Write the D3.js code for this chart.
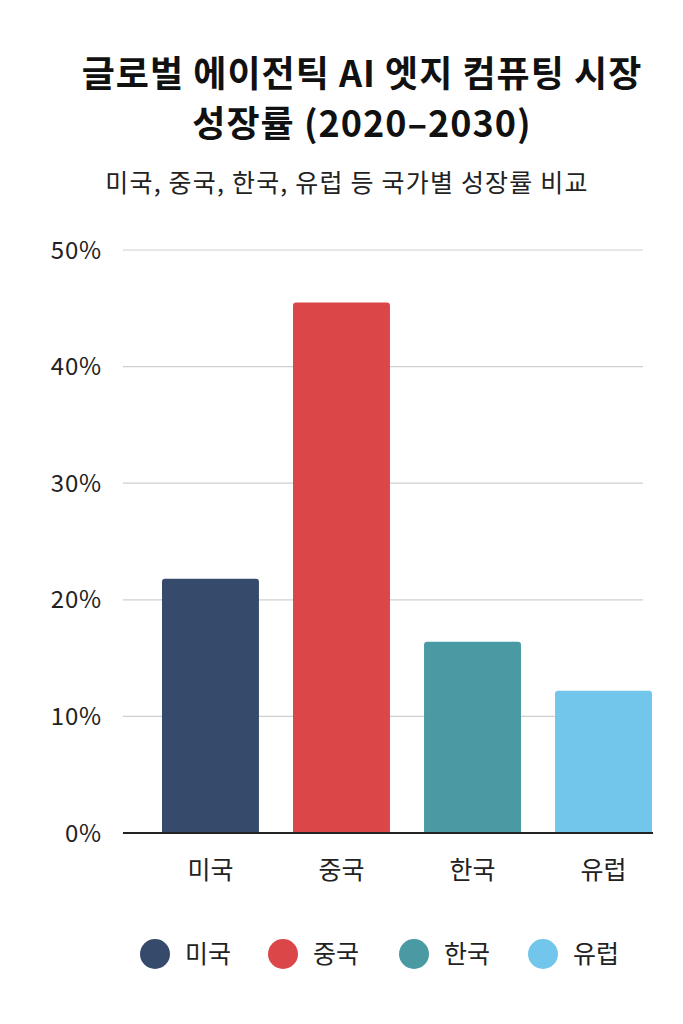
<!DOCTYPE html>
<html>
<head>
<meta charset="utf-8">
<script src="https://cdn.jsdelivr.net/npm/d3@7"></script>
<style>
  body { margin: 0; background: #fff; }
  svg { display: block; font-family: "Noto Sans CJK KR", "Noto Sans", sans-serif; }
</style>
</head>
<body>
<svg></svg>
<script>
const WIDTH  = 683;
const HEIGHT = 1024;

const titleLines = ['글로벌 에이전틱 AI 엣지 컴퓨팅 시장', '성장률 (2020–2030)'];
const subtitle   = '미국, 중국, 한국, 유럽 등 국가별 성장률 비교';

const countries = ['미국', '중국', '한국', '유럽'];
const growth    = [21.8, 45.5, 16.4, 12.2];
const colors    = ['#364a6b', '#db4649', '#4a9aa4', '#72c6ec'];
const yTicks    = [0, 10, 20, 30, 40, 50];

const svg = d3.select('svg')
  .attr('width', WIDTH)
  .attr('height', HEIGHT);

// titles
svg.append('g')
  .selectAll('text')
  .data(titleLines)
  .join('text')
  .attr('x', 362)
  .attr('y', (d, i) => 87 + i * 50)
  .attr('text-anchor', 'middle')
  .attr('font-size', 36)
  .attr('font-weight', 700)
  .attr('letter-spacing', 1)
  .attr('fill', '#111')
  .text(d => d);

svg.append('text')
  .attr('x', 347)
  .attr('y', 192)
  .attr('text-anchor', 'middle')
  .attr('font-size', 25)
  .attr('letter-spacing', 1.2)
  .attr('fill', '#222')
  .text(subtitle);

//-------------------------------------------------

const x = d3.scaleBand()
  .domain(countries)
  .range([162, 652])
  .paddingInner(0.26)
  .paddingOuter(0);

const y = d3.scaleLinear()
  .domain([0, 50])
  .range([833, 250]);

const data = countries.map((c, i) => ({ country: c, value: growth[i], color: colors[i] }));

// grid
svg.append('g')
  .selectAll('line')
  .data(yTicks.filter(t => t > 0))
  .join('line')
  .attr('x1', 123)
  .attr('x2', 643)
  .attr('y1', d => y(d))
  .attr('y2', d => y(d))
  .attr('stroke', '#cfcfcf')
  .attr('stroke-width', 1.2);

// y labels
svg.append('g')
  .selectAll('text')
  .data(yTicks)
  .join('text')
  .attr('x', 102)
  .attr('y', d => y(d))
  .attr('dy', '0.36em')
  .attr('text-anchor', 'end')
  .attr('font-size', 24)
  .attr('letter-spacing', 0.8)
  .attr('fill', '#222')
  .text(d => `${d}%`);

// bars
svg.append('g')
  .selectAll('path')
  .data(data)
  .join('path')
  .attr('fill', d => d.color)
  .attr('d', d => {
    const x0 = x(d.country), w = x.bandwidth(), y0 = y(d.value), y1 = y(0), r = 3;
    return `M${x0},${y1}V${y0 + r}Q${x0},${y0} ${x0 + r},${y0}H${x0 + w - r}Q${x0 + w},${y0} ${x0 + w},${y0 + r}V${y1}Z`;
  });

// baseline
svg.append('line')
  .attr('x1', 123)
  .attr('x2', 653)
  .attr('y1', y(0))
  .attr('y2', y(0))
  .attr('stroke', '#222')
  .attr('stroke-width', 2);

// category labels
svg.append('g')
  .selectAll('text')
  .data(countries)
  .join('text')
  .attr('x', d => x(d) + x.bandwidth() / 2)
  .attr('y', 870)
  .attr('dy', '0.36em')
  .attr('text-anchor', 'middle')
  .attr('font-size', 25)
  .attr('fill', '#222')
  .text(d => d);

//-------------------------------------------------

// legend
const legendX = [155, 283, 414, 543];
const legend = svg.append('g')
  .selectAll('g')
  .data(data)
  .join('g')
  .attr('transform', (d, i) => `translate(${legendX[i]},954)`);

legend.append('circle')
  .attr('r', 15)
  .attr('fill', d => d.color);

legend.append('text')
  .attr('x', 30)
  .attr('dy', '0.36em')
  .attr('font-size', 25)
  .attr('fill', '#222')
  .text(d => d.country);
</script>
</body>
</html>
